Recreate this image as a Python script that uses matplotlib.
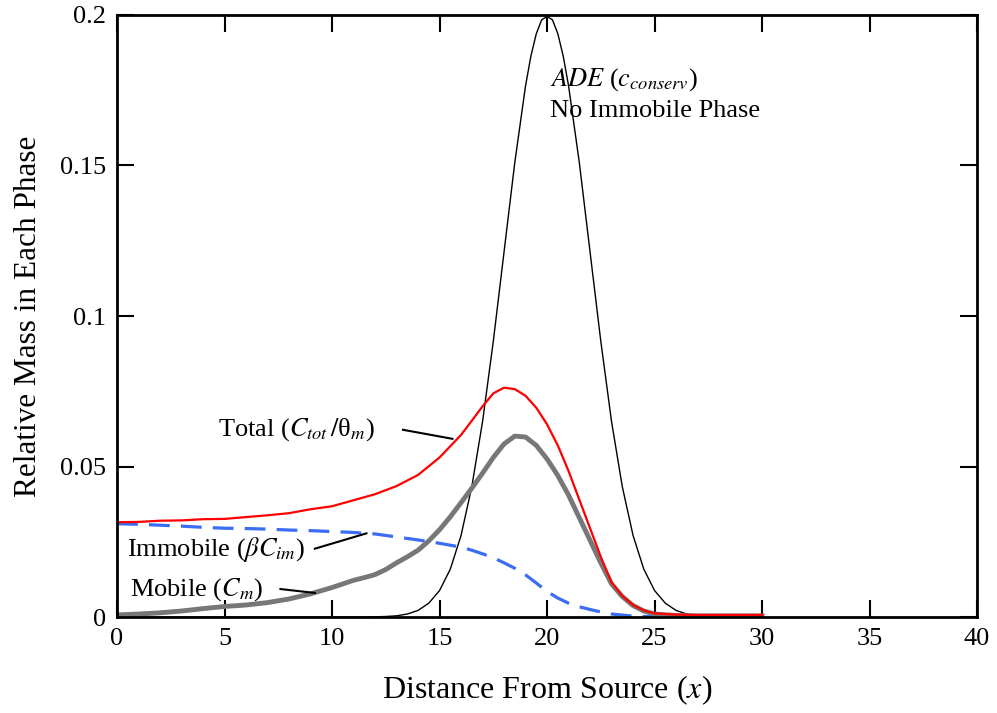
import numpy as np
import matplotlib as mpl

mpl.use('agg')

import matplotlib.pyplot as plt

plt.rcParams['font.family'] = ['Liberation Serif', 'DejaVu Serif']
plt.rcParams['mathtext.fontset'] = 'stix'

# ADE (no immobile phase), conservative tracer
x_ade = [0, 5, 10, 11, 12, 12.5, 13, 13.5, 14, 14.5, 15, 15.5, 16, 16.5, 17, 17.5, 18, 18.5, 19, 19.25,
         19.5, 19.75, 20, 20.25, 20.5, 20.75, 21, 21.5, 22, 22.5, 23, 23.5, 24, 24.5, 25, 25.5, 26,
         26.5, 27, 27.5, 28, 29, 30]
c_ade = [0.0, 0.0, 0.0, 0.00001, 0.00007, 0.00018, 0.0004, 0.0010, 0.0022, 0.0046, 0.0088, 0.0159,
         0.0271, 0.0433, 0.0649, 0.0916, 0.1213, 0.1510, 0.1765, 0.1864,
         0.1938, 0.1984, 0.1995, 0.1984, 0.1938, 0.1864, 0.1765, 0.1510, 0.1213, 0.0916, 0.0649,
         0.0433, 0.0271, 0.0159, 0.0088, 0.0046, 0.0022, 0.0010, 0.0004, 0.00018, 0.00007, 0.00001, 0.0]

# total / theta_m
x_tot = [0, 1, 2, 3, 4, 5, 6, 7, 8, 9, 10, 11, 12, 13, 14, 15, 16, 16.5, 17, 17.5, 18, 18.5, 19,
         19.5, 20, 20.5, 21, 21.5, 22, 22.5, 23, 23.5, 24, 24.5, 25, 26, 27, 28, 29, 30]
c_tot = [0.0315, 0.0316, 0.0320, 0.0321, 0.0325, 0.0326, 0.0332, 0.0338, 0.0345, 0.0358, 0.0368,
         0.0388, 0.0408, 0.0435, 0.0472, 0.0530, 0.0605, 0.0652, 0.0700, 0.0743, 0.0762, 0.0757,
         0.0735, 0.0695, 0.0640, 0.0570, 0.0485, 0.0390, 0.0295, 0.0200, 0.0115, 0.0070, 0.0040,
         0.0022, 0.0012, 0.0008, 0.0007, 0.0007, 0.0007, 0.0007]

# mobile phase
x_mob = [0, 1, 2, 3, 4, 5, 6, 7, 8, 9, 10, 11, 11.5, 12, 12.5, 13, 13.5, 14, 14.5, 15, 15.5, 16,
         16.5, 17, 17.5, 18, 18.5, 19, 19.5, 20, 20.5, 21, 21.5, 22, 22.5, 23, 23.5, 24, 24.5, 25,
         26, 27, 28, 29, 30]
c_mob = [0.0007, 0.0010, 0.0014, 0.0020, 0.0028, 0.0035, 0.0040, 0.0048, 0.0060, 0.0077, 0.0098,
         0.0122, 0.0131, 0.0141, 0.0158, 0.0180, 0.0200, 0.0222, 0.0253, 0.0290, 0.0333, 0.0380,
         0.0428, 0.0478, 0.0530, 0.0575, 0.0601, 0.0598, 0.0570, 0.0525, 0.0470, 0.0405, 0.0330,
         0.0255, 0.0180, 0.0110, 0.0068, 0.0038, 0.0020, 0.0010, 0.0005, 0.0004, 0.0004, 0.0004, 0.0004]

# immobile phase (beta * C_im)
x_imm = [0, 1, 2, 3, 4, 5, 6, 7, 8, 9, 10, 11, 12, 13, 14, 15, 16, 16.5, 17, 17.5, 18, 18.5, 19,
         19.5, 20, 20.5, 21, 21.5, 22, 22.5, 23, 24, 25]
c_imm = [0.0310, 0.0308, 0.0305, 0.0302, 0.0298, 0.0295, 0.0294, 0.0292, 0.0289, 0.0287, 0.0284,
         0.0281, 0.0276, 0.0266, 0.0256, 0.0245, 0.0232, 0.0222, 0.0210, 0.0197, 0.0180, 0.0162,
         0.0140, 0.0113, 0.0085, 0.0063, 0.0046, 0.0034, 0.0025, 0.0017, 0.0010, 0.0003, 0.0001]

fig = plt.figure(figsize=(9.97, 7.13), dpi=100)
ax = fig.add_axes([0.1174, 0.1346, 0.8626, 0.8444])

ax.plot(x_ade, c_ade, color='black', linewidth=1.0)
ax.plot(x_imm, c_imm, color='#3a6cf4', linewidth=2.3, dashes=(6.5, 3.5))
ax.plot(x_mob, c_mob, color='#777777', linewidth=3.5)
ax.plot(x_tot, c_tot, color='#ff0000', linewidth=1.6)

ax.set_xlim(0, 40)
ax.set_ylim(0, 0.2)
ax.set_xticks(np.arange(0, 41, 5))
ax.set_yticks([0, 0.05, 0.1, 0.15, 0.2])
ax.set_yticklabels(['0', '0.05', '0.1', '0.15', '0.2'])
ax.tick_params(direction='in', length=12, width=1.5, top=True, right=True,
               labelsize=19, pad=8)
for sp in ax.spines.values():
    sp.set_linewidth(2)

ax.set_xlabel('Distance From Source ($x$)', fontsize=23, labelpad=17)
ax.set_ylabel('Relative Mass in Each Phase', fontsize=22.5, labelpad=12)

fs = 19
ax.text(20.15, 0.1785, '$ADE$ ($c_{conserv}$)', fontsize=fs, va='center', ha='left')
ax.text(20.15, 0.168, 'No Immobile Phase', fontsize=fs, va='center', ha='left')

ax.text(4.7, 0.0622, 'Total ($C_{tot}\\,/$θ$_m$)', fontsize=fs, va='center', ha='left')
ax.plot([13.3, 15.6], [0.0622, 0.0592], color='black', linewidth=1.5)

ax.text(0.45, 0.0225, 'Immobile ($\\beta C_{im}$)', fontsize=fs, va='center', ha='left')
ax.plot([9.2, 11.6], [0.0227, 0.0278], color='black', linewidth=1.5)

ax.text(0.6, 0.0092, 'Mobile ($C_m$)', fontsize=fs, va='center', ha='left')
ax.plot([7.6, 9.2], [0.0093, 0.0080], color='black', linewidth=1.5)

fig.savefig('out.png', dpi=100)
